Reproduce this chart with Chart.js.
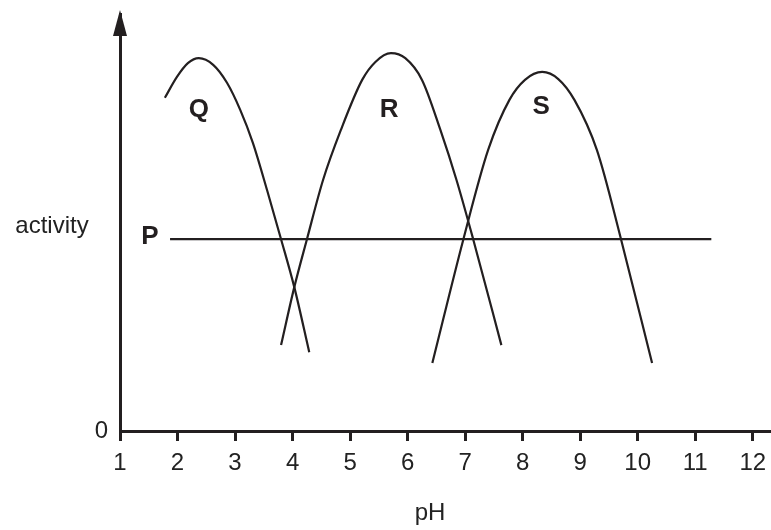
<!DOCTYPE html>
<html>
<head>
<meta charset="utf-8">
<script src="https://cdn.jsdelivr.net/npm/chart.js@4/dist/chart.umd.min.js"></script>
<style>
  html, body { margin: 0; padding: 0; background: #fff; }
  #wrap { width: 771px; height: 530px; }
</style>
</head>
<body>
<div id="wrap"><canvas id="grafico"></canvas></div>
<script>
// valores (pH, actividad en % de la altura del eje)
const ticksPH = [1, 2, 3, 4, 5, 6, 7, 8, 9, 10, 11, 12];
const ticksAct = [0];

const qPH  = [1.78, 1.99, 2.18, 2.37, 2.62, 2.86, 3.09, 3.31, 3.56, 3.80, 4.03, 4.29];
const qAct = [79.9, 84.9, 88.2, 89.4, 87.8, 83.5, 77.0, 69.1, 57.6, 46.0, 34.5, 18.9];

const rPH  = [3.80, 4.03, 4.25, 4.53, 4.84, 5.21, 5.44, 5.71, 5.96, 6.25, 6.57, 6.85, 7.14, 7.63];
const rAct = [20.6, 34.5, 46.0, 60.2, 72.2, 84.2, 88.5, 90.6, 89.4, 84.2, 72.2, 60.2, 46.0, 20.6];

const sPH  = [6.43, 6.97, 7.40, 7.77, 8.04, 8.34, 8.62, 8.90, 9.29, 9.71, 10.25];
const sAct = [16.3, 46.0, 67.4, 79.4, 84.2, 86.1, 84.4, 79.4, 67.4, 46.0, 16.3];

const pPH  = [1.87, 11.28];
const pAct = [46.0, 46.0];

const tinta = '#231f20';

function puntos(xs, ys) {
    return xs.map((x, i) => ({ x: x, y: ys[i] }));
}

function serie(nombre, xs, ys) {
    return {
        label: nombre,
        data: puntos(xs, ys),
        borderColor: tinta,
        borderWidth: 2.2,
        pointRadius: 0,
        cubicInterpolationMode: 'monotone',
        fill: false
    };
}

// flecha del eje y, rotulos de las curvas y de los ejes
const rotulos = {
    id: 'rotulos',
    afterDraw(chart) {
        const ctx = chart.ctx;
        const xs = chart.scales.x;
        const ys = chart.scales.y;
        const area = chart.chartArea;

        ctx.save();
        ctx.fillStyle = tinta;
        ctx.beginPath();
        ctx.moveTo(area.left, area.top - 4);
        ctx.lineTo(area.left - 7, area.top + 22);
        ctx.lineTo(area.left + 7, area.top + 22);
        ctx.closePath();
        ctx.fill();

        ctx.textAlign = 'center';
        ctx.textBaseline = 'middle';
        ctx.font = 'bold 26px "Liberation Sans", Arial, sans-serif';
        const letras = [
            { t: 'Q', x: 2.37, y: 77.0 },
            { t: 'R', x: 5.68, y: 77.0 },
            { t: 'S', x: 8.32, y: 77.7 },
            { t: 'P', x: 1.52, y: 46.5 }
        ];
        letras.forEach(l => {
            ctx.fillText(l.t, xs.getPixelForValue(l.x), ys.getPixelForValue(l.y));
        });

        ctx.fillStyle = '#222';
        ctx.font = '24px "Liberation Sans", Arial, sans-serif';
        ctx.fillText('activity', 52, 226);
        ctx.fillText('pH', 430, 513);
        ctx.restore();
    }
};

const ctx = document.getElementById('grafico').getContext('2d');
new Chart(ctx, {
    type: 'line',
    data: {
        datasets: [
            serie('Q', qPH, qAct),
            serie('R', rPH, rAct),
            serie('S', sPH, sAct),
            serie('P', pPH, pAct)
        ]
    },
    options: {
        responsive: true,
        maintainAspectRatio: false,
        animation: false,
        layout: { padding: { top: 14, right: 1, bottom: 0, left: 0 } },
        plugins: {
            legend: { display: false },
            tooltip: { enabled: false }
        },
        scales: {
            x: {
                type: 'linear',
                min: 1,
                max: 12.3,
                afterBuildTicks: s => { s.ticks = ticksPH.map(v => ({ value: v })); },
                afterFit: s => { s.height = 99; s.paddingRight = 0; s.paddingLeft = 0; },
                border: { display: true, color: tinta, width: 3 },
                grid: {
                    drawOnChartArea: false,
                    drawTicks: true,
                    tickLength: 10,
                    tickWidth: 3,
                    tickColor: tinta
                },
                ticks: {
                    color: '#222',
                    padding: 8,
                    maxRotation: 0,
                    font: { family: '"Liberation Sans", Arial, sans-serif', size: 24 }
                }
            },
            y: {
                min: 0,
                max: 100,
                afterBuildTicks: s => { s.ticks = ticksAct.map(v => ({ value: v })); },
                afterFit: s => { s.width = 120; s.paddingTop = 0; s.paddingBottom = 0; },
                border: { display: true, color: tinta, width: 3 },
                grid: { drawOnChartArea: false, drawTicks: false },
                ticks: {
                    color: '#222',
                    padding: 12,
                    font: { family: '"Liberation Sans", Arial, sans-serif', size: 24 }
                }
            }
        }
    },
    plugins: [rotulos]
});
</script>
</body>
</html>
